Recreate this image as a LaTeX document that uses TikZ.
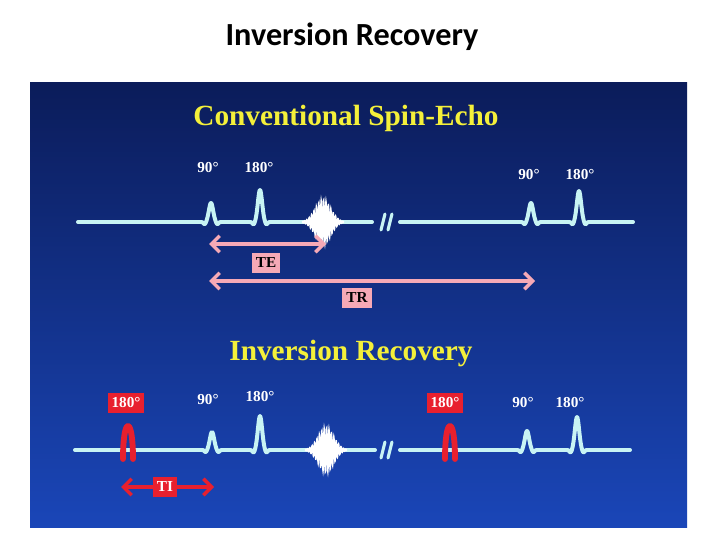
\documentclass[tikz,border=0pt]{standalone}
\usepackage{fontspec}
\setmainfont{Liberation Serif}
\newfontfamily\calib{Carlito}
\usetikzlibrary{arrows.meta}
\definecolor{wave}{HTML}{C8F4F4}
\definecolor{pinkc}{HTML}{F6A9B6}
\definecolor{redc}{HTML}{E8202E}
\definecolor{ttl}{HTML}{F4F03A}
\definecolor{bgtop}{HTML}{0B1C5A}
\definecolor{bgbot}{HTML}{1A46B8}
\newcommand\pulse[4]{-- plot[domain=-11:11,samples=45,smooth] ({#1+\x},{#2-#3*(exp(0-(\x/3.0)*(\x/3.0))-#4*exp(0-((abs(\x)-6.3)/1.7)*((abs(\x)-6.3)/1.7)))})}
\newcommand\echoat[2]{\draw[echo] plot[domain=-21:21,samples=360] ({#1+\x},{#2-22*exp(0-(\x/11)*(\x/11))*sin(150*\x)});}
\newcommand\redpulse[2]{\draw[redp] (#1-5,#2+9) .. controls (#1-5,#2-10) and (#1-3,#2-24) .. (#1,#2-24) .. controls (#1+3,#2-24) and (#1+5,#2-10) .. (#1+5,#2+9);}
\begin{document}
\begin{tikzpicture}[x=0.03cm,y=-0.03cm,
  wv/.style={draw=wave,line width=3.4pt,line join=round,line cap=round},
  redp/.style={draw=redc,line width=5pt,line join=round,line cap=round},
  echo/.style={draw=white,line width=1.3pt},
  lbl/.style={text=white,font=\fontsize{13}{15}\selectfont\bfseries,inner sep=1pt},
  rbox/.style={fill=redc,text=white,font=\fontsize{13}{15}\selectfont\bfseries,inner xsep=3pt,inner ysep=4.5pt},
  pbox/.style={fill=pinkc,text=black,font=\fontsize{13}{15}\selectfont\bfseries,inner xsep=3.5pt,inner ysep=4.5pt},
  ttlstyle/.style={text=ttl,font=\fontsize{25}{30}\selectfont\bfseries},
  parr/.style={draw=pinkc,line width=3.4pt,{Straight Barb[length=7pt,width=14pt,line width=3pt]}-{Straight Barb[length=7pt,width=14pt,line width=3pt]}},
  rarr/.style={draw=redc,line width=3.4pt,{Straight Barb[length=7pt,width=14pt,line width=3pt]}-{Straight Barb[length=7pt,width=14pt,line width=3pt]}},
  brk/.style={draw=wave,line width=2.6pt,line cap=round}]
\useasboundingbox (0,0) rectangle (720,540);
\fill[white] (0,0) rectangle (720,540);
\node[font=\calib\fontsize{27.5}{32}\selectfont\bfseries,text=black] (main) at (352,37) {Inversion Recovery};
\shade[top color=bgtop,bottom color=bgbot] (30,83) rectangle (687,527);
% top section
\node[ttlstyle] (t1) at (346,118) {Conventional Spin-Echo};
\draw[wv] (78,222) \pulse{211}{222}{19}{0.12} \pulse{260}{222}{32}{0.08} -- (372,222);
\draw[wv] (400,222) \pulse{531}{222}{19}{0.12} \pulse{579}{222}{31}{0.08} -- (633,222);
\echoat{323}{222}
\draw[brk] (381,230) -- (385,214);
\draw[brk] (388,230) -- (392,214);
\node[lbl] (a1) at (208,168) {90°};
\node[lbl] (a2) at (259,168) {180°};
\node[lbl] (a3) at (529,175) {90°};
\node[lbl] (a4) at (580,175) {180°};
\coordinate (te1) at (209,244);
\coordinate (te2) at (326,244);
\draw[parr] (te1) -- (te2);
\node[pbox] (te) at (266,263) {TE};
\coordinate (tr1) at (209,281);
\coordinate (tr2) at (535,281);
\draw[parr] (tr1) -- (tr2);
\node[pbox] (tr) at (357,298) {TR};
% bottom section
\node[ttlstyle] (t2) at (351,353) {Inversion Recovery};
\draw[wv] (75,450) \pulse{212}{450}{18}{0.12} \pulse{260}{450}{34}{0.08} -- (375,450);
\draw[wv] (400,450) \pulse{527}{450}{19}{0.12} \pulse{577}{450}{33}{0.08} -- (630,450);
\redpulse{128}{450}
\redpulse{450}{450}
\echoat{326}{450}
\draw[brk] (381,458) -- (385,442);
\draw[brk] (388,458) -- (392,442);
\node[rbox] (b1) at (126,403) {180°};
\node[lbl] (b2) at (208,400) {90°};
\node[lbl] (b3) at (260,397) {180°};
\node[rbox] (b4) at (445,403) {180°};
\node[lbl] (b5) at (523,403) {90°};
\node[lbl] (b6) at (570,403) {180°};
\coordinate (ti1) at (121,487);
\coordinate (ti2) at (214,487);
\draw[rarr] (ti1) -- (ti2);
\node[rbox] (ti) at (165,487) {TI};
\end{tikzpicture}
\end{document}
